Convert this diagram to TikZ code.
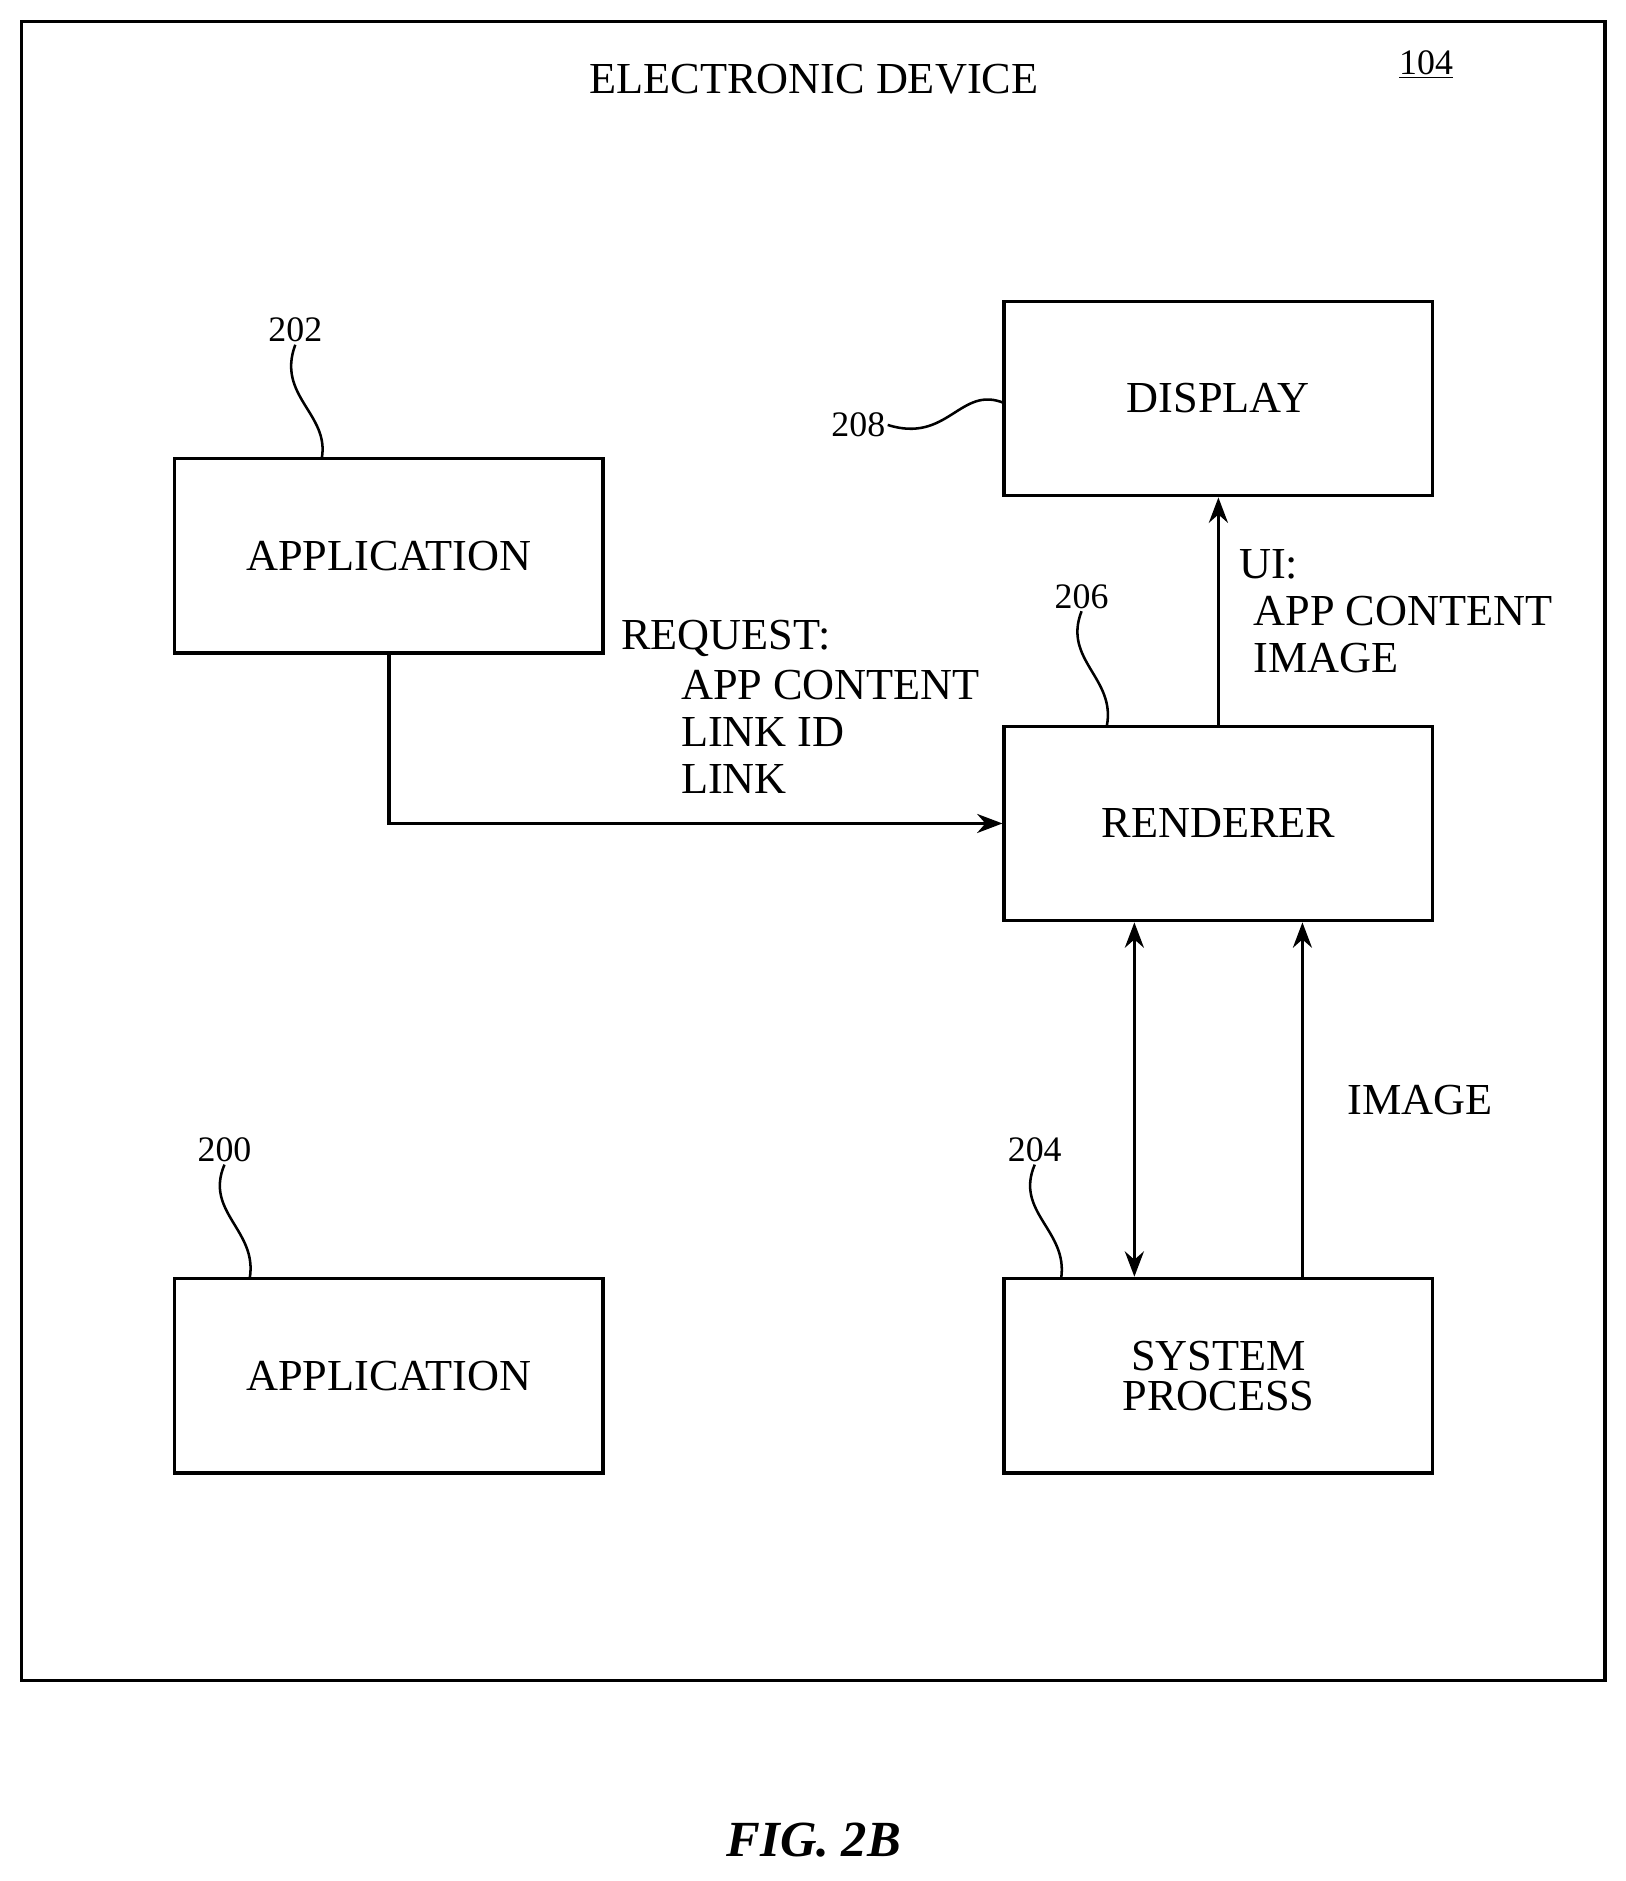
\documentclass[tikz,border=0pt]{standalone}
\usepackage{fontspec}
\setmainfont{Liberation Serif}
\usetikzlibrary{arrows.meta}
\tikzset{
  box/.style={draw,line width=1.6pt,minimum width=7.14cm,minimum height=3.24cm,align=center,font=\fontsize{21}{22}\selectfont},
  refnum/.style={font=\fontsize{17}{18}\selectfont,inner sep=1pt},
  flow/.style={line width=1.6pt,-{Stealth[length=12pt,width=9pt]}},
  txt/.style={font=\fontsize{21}{22}\selectfont,inner sep=0pt,anchor=west}
}
\begin{document}
\begin{tikzpicture}[x=0.02cm,y=-0.02cm]
    \useasboundingbox (0,0) rectangle (1354,1567);
    \draw[line width=1.6pt] (18,18) rectangle (1337,1400);
    \node[font=\fontsize{21}{22}\selectfont] (title) at (678,66) {ELECTRONIC DEVICE};
    \node[refnum] (n104) at (1188,54) {\underline{104}};

    \node[box] (app1) at (324,463) {APPLICATION};
    \node[box] (disp) at (1015,332) {DISPLAY};
    \node[box] (rend) at (1015,686) {RENDERER};
    \node[box] (app0) at (324,1146) {APPLICATION};
    \node[box,align=center] (sys) at (1015,1146) {SYSTEM\\[-3pt]PROCESS};

    % reference numerals
    \node[refnum] (n202) at (246,275) {202};
    \node[refnum] (n208) at (715,354) {208};
    \node[refnum] (n206) at (901,497) {206};
    \node[refnum] (n200) at (187,958) {200};
    \node[refnum] (n204) at (862,958) {204};
    \draw[line width=1.2pt] (n202.south) .. controls (230,330) and (275,345) .. (268,382);
    \draw[line width=1.2pt] (n208.east) .. controls (790,370) and (800,320) .. (837,336);
    \draw[line width=1.2pt] (n206.south) .. controls (885,550) and (930,565) .. (922,605);
    \draw[line width=1.2pt] (n200.south) .. controls (170,1010) and (215,1025) .. (208,1065);
    \draw[line width=1.2pt] (n204.south) .. controls (845,1010) and (890,1025) .. (884,1065);

    % connectors
    \draw[flow] (app1.south) |- (rend.west);
    \draw[flow] (rend.north) -- (disp.south);
    \draw[line width=1.6pt,{Stealth[length=12pt,width=9pt]}-{Stealth[length=12pt,width=9pt]}] (rend.south -| 945,0) -- (sys.north -| 945,0);
    \draw[flow] (sys.north -| 1085,0) -- (rend.south -| 1085,0);

    \node[txt] (req) at (517,532) {REQUEST:};
    \node[txt] (req1) at (567,571) {APP CONTENT};
    \node[txt] (req2) at (567,610) {LINK ID};
    \node[txt] (req3) at (567,649) {LINK};
    \node[txt] (ui) at (1032,470) {UI:};
    \node[txt] (ui1) at (1044,509) {APP CONTENT};
    \node[txt] (ui2) at (1044,548) {IMAGE};
    \node[txt,anchor=center] (img) at (1183,916) {IMAGE};

    \node[font=\fontsize{24}{26}\selectfont\bfseries\itshape] (fig) at (678,1533) {FIG. 2B};
\end{tikzpicture}
\end{document}
